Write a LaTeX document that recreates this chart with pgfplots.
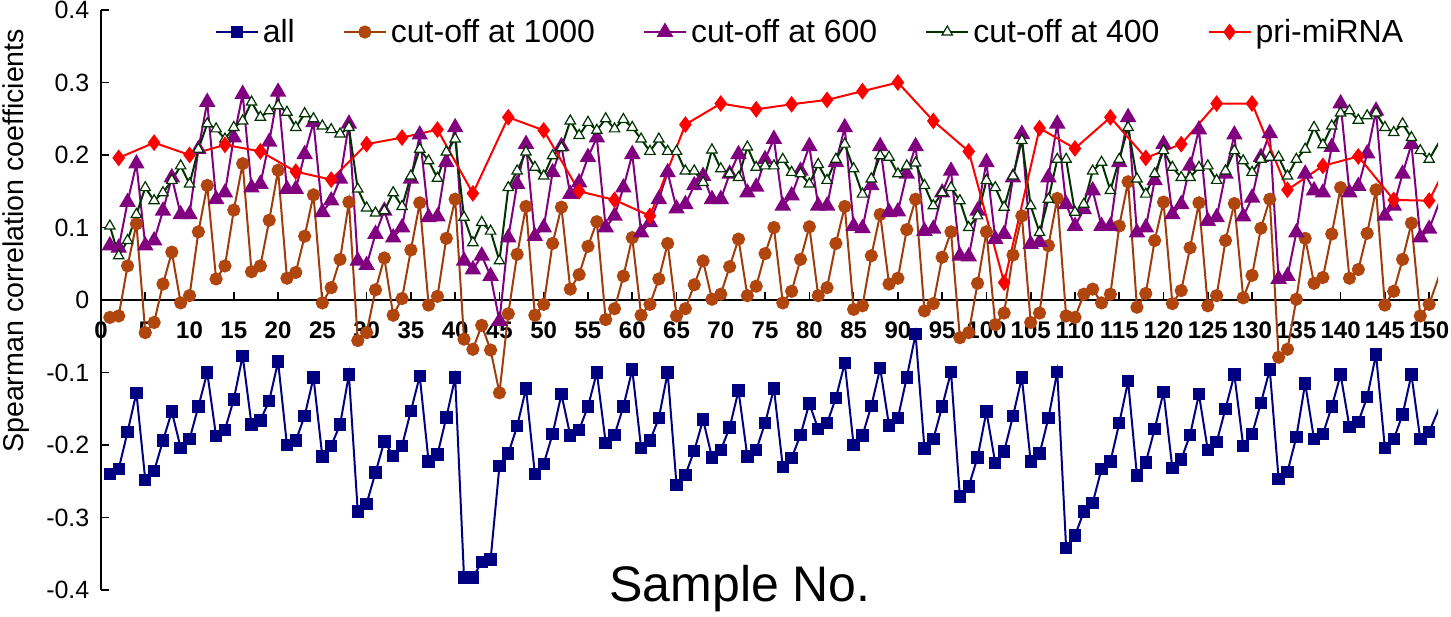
\documentclass[border=0pt]{standalone}
\usepackage{fontspec}
\setmainfont{Liberation Sans}
\usepackage{pgfplots}
\usepackage{pgfplotstable}
\pgfplotsset{compat=1.18}
\definecolor{cAll}{RGB}{0,0,128}
\definecolor{cK}{RGB}{160,60,12}
\definecolor{cKm}{RGB}{176,70,14}
\definecolor{cSix}{RGB}{128,0,128}
\definecolor{cFour}{RGB}{0,51,0}
\definecolor{cPri}{RGB}{255,0,0}

\pgfplotstableread{
x all c1000 c600 c400
1 -0.240 -0.024 0.075 0.102
2 -0.233 -0.022 0.072 0.061
3 -0.182 0.047 0.135 0.082
4 -0.128 0.105 0.188 0.118
5 -0.248 -0.045 0.075 0.155
6 -0.236 -0.031 0.082 0.137
7 -0.194 0.022 0.123 0.148
8 -0.154 0.066 0.169 0.165
9 -0.204 -0.004 0.118 0.185
10 -0.192 0.006 0.118 0.160
11 -0.147 0.094 0.208 0.208
12 -0.100 0.158 0.273 0.243
13 -0.188 0.029 0.139 0.236
14 -0.179 0.047 0.148 0.222
15 -0.137 0.124 0.224 0.238
16 -0.077 0.188 0.284 0.247
17 -0.172 0.039 0.155 0.273
18 -0.166 0.047 0.160 0.252
19 -0.139 0.110 0.218 0.261
20 -0.085 0.179 0.287 0.268
21 -0.200 0.030 0.153 0.259
22 -0.194 0.038 0.153 0.238
23 -0.160 0.088 0.201 0.257
24 -0.107 0.145 0.245 0.250
25 -0.216 -0.004 0.121 0.240
26 -0.201 0.017 0.137 0.235
27 -0.172 0.056 0.167 0.229
28 -0.103 0.135 0.243 0.238
29 -0.292 -0.056 0.054 0.153
30 -0.281 -0.045 0.048 0.127
31 -0.238 0.014 0.091 0.120
32 -0.195 0.058 0.123 0.123
33 -0.215 -0.021 0.086 0.148
34 -0.201 0.002 0.100 0.129
35 -0.153 0.069 0.167 0.171
36 -0.105 0.134 0.228 0.208
37 -0.223 -0.007 0.114 0.192
38 -0.213 0.005 0.115 0.168
39 -0.162 0.085 0.190 0.204
40 -0.107 0.139 0.238 0.222
41 -0.383 -0.054 0.054 0.114
42 -0.383 -0.068 0.042 0.079
43 -0.361 -0.035 0.061 0.107
44 -0.358 -0.069 0.033 0.095
45 -0.229 -0.128 -0.029 0.054
46 -0.212 -0.019 0.086 0.155
47 -0.174 0.063 0.160 0.178
48 -0.122 0.129 0.215 0.204
49 -0.240 -0.021 0.088 0.183
50 -0.226 -0.006 0.100 0.171
51 -0.185 0.078 0.176 0.199
52 -0.130 0.128 0.212 0.210
53 -0.187 0.015 0.146 0.247
54 -0.179 0.035 0.162 0.227
55 -0.147 0.074 0.197 0.245
56 -0.100 0.108 0.224 0.234
57 -0.197 -0.027 0.100 0.250
58 -0.186 -0.012 0.116 0.236
59 -0.147 0.033 0.155 0.249
60 -0.096 0.086 0.201 0.238
61 -0.204 -0.021 0.093 0.222
62 -0.194 -0.006 0.107 0.205
63 -0.163 0.029 0.139 0.222
64 -0.100 0.078 0.176 0.205
65 -0.255 -0.022 0.126 0.205
66 -0.241 -0.012 0.132 0.178
67 -0.208 0.021 0.158 0.178
68 -0.165 0.054 0.171 0.162
69 -0.217 0.001 0.139 0.207
70 -0.207 0.008 0.139 0.181
71 -0.176 0.046 0.174 0.174
72 -0.125 0.084 0.201 0.169
73 -0.216 0.006 0.148 0.211
74 -0.207 0.019 0.156 0.183
75 -0.170 0.064 0.194 0.185
76 -0.122 0.100 0.222 0.185
77 -0.230 -0.004 0.130 0.194
78 -0.218 0.012 0.144 0.176
79 -0.186 0.056 0.178 0.174
80 -0.143 0.101 0.212 0.160
81 -0.178 0.006 0.130 0.187
82 -0.170 0.017 0.130 0.165
83 -0.135 0.078 0.190 0.194
84 -0.087 0.129 0.238 0.215
85 -0.200 -0.013 0.102 0.181
86 -0.187 -0.008 0.099 0.146
87 -0.146 0.061 0.158 0.167
88 -0.094 0.118 0.212 0.199
89 -0.173 0.022 0.121 0.197
90 -0.163 0.030 0.122 0.174
91 -0.107 0.097 0.174 0.185
92 -0.047 0.139 0.212 0.189
93 -0.205 -0.015 0.095 0.158
94 -0.192 -0.005 0.098 0.130
95 -0.147 0.059 0.148 0.148
96 -0.099 0.094 0.178 0.155
97 -0.271 -0.052 0.061 0.137
98 -0.257 -0.045 0.060 0.100
99 -0.217 0.023 0.123 0.116
100 -0.154 0.094 0.190 0.165
101 -0.225 -0.034 0.084 0.155
102 -0.209 -0.018 0.091 0.128
103 -0.160 0.062 0.169 0.171
104 -0.107 0.116 0.229 0.220
105 -0.223 -0.031 0.077 0.130
106 -0.212 -0.018 0.080 0.093
107 -0.163 0.075 0.169 0.139
108 -0.099 0.140 0.243 0.194
109 -0.342 -0.022 0.132 0.194
110 -0.325 -0.024 0.102 0.121
111 -0.292 0.008 0.125 0.132
112 -0.280 0.015 0.151 0.178
113 -0.233 -0.004 0.102 0.190
114 -0.223 0.008 0.102 0.151
115 -0.170 0.102 0.190 0.194
116 -0.112 0.163 0.252 0.238
117 -0.242 -0.010 0.093 0.167
118 -0.224 0.009 0.100 0.146
119 -0.178 0.082 0.165 0.174
120 -0.127 0.135 0.215 0.206
121 -0.232 -0.005 0.118 0.183
122 -0.220 0.013 0.132 0.169
123 -0.186 0.072 0.185 0.169
124 -0.130 0.134 0.235 0.183
125 -0.207 -0.008 0.109 0.185
126 -0.196 0.006 0.114 0.165
127 -0.150 0.082 0.174 0.178
128 -0.103 0.133 0.228 0.206
129 -0.201 0.003 0.115 0.192
130 -0.185 0.034 0.141 0.176
131 -0.142 0.099 0.197 0.194
132 -0.096 0.139 0.230 0.197
133 -0.247 -0.079 0.029 0.197
134 -0.237 -0.068 0.033 0.171
135 -0.189 0.001 0.093 0.194
136 -0.115 0.085 0.174 0.208
137 -0.192 0.023 0.151 0.238
138 -0.185 0.031 0.148 0.214
139 -0.147 0.091 0.211 0.240
140 -0.103 0.155 0.271 0.258
141 -0.175 0.030 0.148 0.261
142 -0.168 0.042 0.157 0.248
143 -0.134 0.092 0.202 0.254
144 -0.075 0.152 0.261 0.258
145 -0.204 -0.007 0.116 0.238
146 -0.192 0.012 0.130 0.231
147 -0.158 0.056 0.174 0.243
148 -0.103 0.106 0.215 0.224
149 -0.192 -0.022 0.086 0.206
150 -0.182 -0.006 0.098 0.194
}\datatable

\pgfplotstableread{
x pri
2 0.196
6 0.217
10 0.200
14 0.214
18 0.205
22 0.177
26 0.166
30 0.215
34 0.224
38 0.235
42 0.147
46 0.252
50 0.234
54 0.150
58 0.138
62 0.116
66 0.242
70 0.271
74 0.263
78 0.270
82 0.276
86 0.288
90 0.300
94 0.247
98 0.205
102 0.024
106 0.237
110 0.209
114 0.252
118 0.196
122 0.215
126 0.271
130 0.271
134 0.152
138 0.185
142 0.198
146 0.138
150 0.137
}\pritable

\pgfplotsset{legend image code/.code={%
  \draw[mark repeat=2,mark phase=2] plot coordinates {(0cm,0cm)(0.37cm,0cm)(0.74cm,0cm)};}}

\begin{document}
\begin{tikzpicture}
\begin{axis}[
  scale only axis, width=668.5pt, height=290pt,
  xmin=0, xmax=151, ymin=-0.4, ymax=0.4,
  axis x line*=middle, axis y line*=left,
  hide obscured x ticks=false,
  axis line style={black, line width=0.8pt},
  tick align=inside, major tick length=4pt,
  tick style={black, line width=0.8pt},
  xtick={0,5,...,150},
  ytick={-0.4,-0.3,-0.2,-0.1,0,0.1,0.2,0.3,0.4},
  yticklabels={-0.4,-0.3,-0.2,-0.1,0,0.1,0.2,0.3,0.4},
  /pgf/number format/assume math mode=true,
  xticklabel style={font=\bfseries\fontsize{12}{14}\selectfont, yshift=-7.5pt},
  yticklabel style={font=\fontsize{12.5}{15}\selectfont, xshift=-2.3pt},
  xlabel={Sample No.},
  ylabel={Spearman correlation coefficients},
  xlabel style={at={(axis description cs:0.478,-0.019)}, anchor=base, font=\fontsize{25}{30}\selectfont},
  ylabel style={at={(axis description cs:-0.0636,0.602)}, anchor=center, font=\fontsize{14.3}{16}\selectfont},
  legend style={draw=none, fill=none, at={(axis description cs:0.531,0.962)}, anchor=center,
    font=\fontsize{16}{18}\selectfont, /tikz/every even column/.append style={column sep=22pt}},
  legend columns=5, legend cell align=left,
]
\coordinate (bl) at (rel axis cs:0,0);
\coordinate (tr) at (rel axis cs:1,1);
\addplot[cAll, line width=1pt, mark=square*, mark size=2.6pt, mark options={fill=cAll}] table[x=x,y=all]{\datatable};
\addlegendentry{all}
\addplot[cK, line width=1pt, mark=*, mark size=2.8pt, mark options={fill=cKm, draw=cKm}] table[x=x,y=c1000]{\datatable};
\addlegendentry{cut-off at 1000}
\addplot[cSix, line width=1pt, mark=triangle*, mark size=3.8pt, mark options={fill=cSix}] table[x=x,y=c600]{\datatable};
\addlegendentry{cut-off at 600}
\addplot[cFour, line width=1pt, mark=triangle*, mark size=3pt, mark options={fill=white, draw=cFour, line width=0.6pt}] table[x=x,y=c400]{\datatable};
\addlegendentry{cut-off at 400}
\addplot[cPri, line width=1pt, mark=diamond*, mark size=3.4pt, mark options={fill=cPri}] table[x=x,y=pri]{\pritable};
\addlegendentry{pri-miRNA}
\addplot[cAll, line width=1pt, forget plot] coordinates {(150,-0.182)(152,-0.124)};
\addplot[cK, line width=1pt, forget plot] coordinates {(150,-0.006)(152,0.064)};
\addplot[cSix, line width=1pt, forget plot] coordinates {(150,0.098)(152,0.162)};
\addplot[cFour, line width=1pt, forget plot] coordinates {(150,0.194)(152,0.236)};
\addplot[cPri, line width=1pt, forget plot] coordinates {(150,0.137)(154,0.235)};
\end{axis}
\pgfresetboundingbox
\path[use as bounding box] ([xshift=-50.5pt,yshift=-13.5pt]bl) rectangle ([xshift=6.5pt,yshift=5pt]tr);
\end{tikzpicture}
\end{document}
